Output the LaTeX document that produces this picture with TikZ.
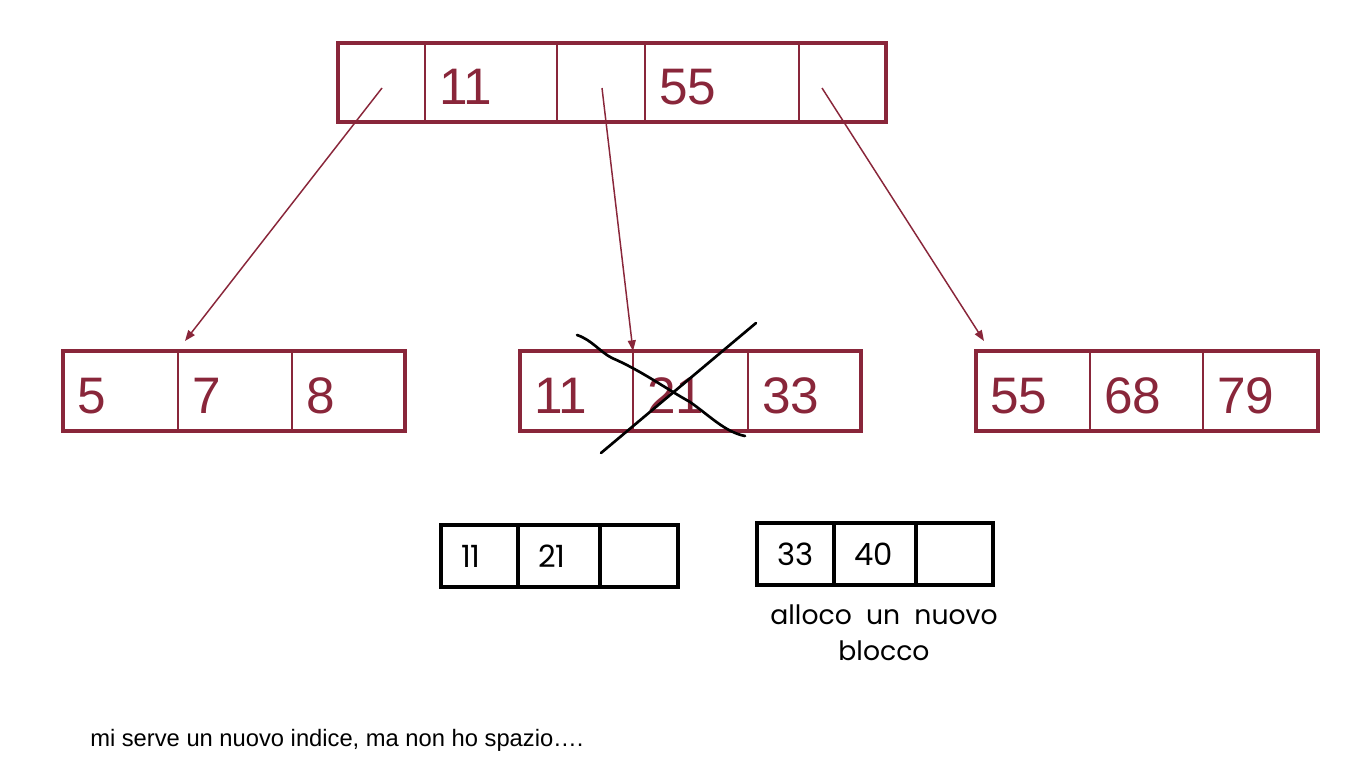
\documentclass[tikz,border=0pt]{standalone}
\usepackage{fontspec}
\setmainfont{Liberation Sans}
\newfontfamily\handfont{Poppins}
\usepackage{tikz}
\usetikzlibrary{calc}
\usetikzlibrary{arrows.meta, positioning}

\definecolor{idxred}{RGB}{137,38,58}

\tikzset{
  cell/.style={draw=idxred, line width=1.6pt, anchor=north west, outer sep=0pt, inner xsep=14*0.75pt,
    inner ysep=0pt, text height=33pt, text depth=0pt, align=left, text=idxred,
    font=\fontsize{38.5}{40}\selectfont},
  frame/.style={draw=idxred, line width=3pt},
  hcell/.style={draw=black, line width=2.3pt, anchor=north west, outer sep=0pt, inner xsep=20*0.75pt,
    inner ysep=0pt, align=left, text=black, font=\handfont\fontsize{23}{26}\selectfont},
  ptr/.style={draw=idxred, line width=1.1pt, -{Triangle[length=8pt,width=6pt]}},
}

\begin{document}
\begin{tikzpicture}[x=0.75pt,y=0.75pt,yscale=-1,xscale=1]
\useasboundingbox[fill=white] (0,0) rectangle (1361,784);

% top index block
\node[cell, text width=59*0.75pt, minimum height=79*0.75pt] (t0) at (338,43) {};
\node[cell, text width=104*0.75pt, minimum height=79*0.75pt] (t1) at (t0.north east) {11};
\node[cell, text width=60*0.75pt, minimum height=79*0.75pt] (t2) at (t1.north east) {};
\node[cell, text width=126*0.75pt, minimum height=79*0.75pt] (t3) at (t2.north east) {55};
\node[cell, text width=59*0.75pt, minimum height=79*0.75pt] (t4) at (t3.north east) {};
\draw[frame] (t0.north west) rectangle (t4.south east);

% leaf blocks
\node[cell, text width=87*0.75pt, minimum height=80*0.75pt] (l1) at (63,351) {5};
\node[cell, text width=86*0.75pt, minimum height=80*0.75pt] (l2) at (l1.north east) {7};
\node[cell, text width=85*0.75pt, minimum height=80*0.75pt] (l3) at (l2.north east) {8};
\draw[frame] (l1.north west) rectangle (l3.south east);

\node[cell, text width=85*0.75pt, minimum height=80*0.75pt] (m1) at (520,351) {11};
\node[cell, text width=87*0.75pt, minimum height=80*0.75pt] (m2) at (m1.north east) {21};
\node[cell, text width=85*0.75pt, minimum height=80*0.75pt] (m3) at (m2.north east) {33};
\draw[frame] (m1.north west) rectangle (m3.south east);

\node[cell, text width=86*0.75pt, minimum height=80*0.75pt] (r1) at (976,351) {55};
\node[cell, text width=85*0.75pt, minimum height=80*0.75pt] (r2) at (r1.north east) {68};
\node[cell, text width=87*0.75pt, minimum height=80*0.75pt] (r3) at (r2.north east) {79};
\draw[frame] (r1.north west) rectangle (r3.south east);

% pointers
\coordinate (p0) at (382,88);
\coordinate (p2) at (602,88);
\coordinate (p4) at (822,88);
\draw[ptr] (p0) -- ($(l1.north east)+(7,-10)$);
\draw[ptr] (p2) -- (m1.north east);
\draw[ptr] (p4) -- ($(r1.north west)+(8,-10)$);

% crossed out
\draw[line width=2pt, line cap=round] (601,453) -- (756,323);
\draw[line width=2pt, line cap=round] (577,335) .. controls (592,340) and (600,352) .. (612,358)
  .. controls (640,370) and (665,388) .. (690,402) .. controls (710,416) and (725,432) .. (745,436);

% split blocks
\node[hcell, text width=37*0.75pt, minimum height=62*0.75pt] (s1) at (441,525) {11};
\node[hcell, text width=42*0.75pt, minimum height=62*0.75pt] (s2) at (s1.north east) {21};
\node[hcell, text width=38*0.75pt, minimum height=62*0.75pt] (s3) at (s2.north east) {};

\node[hcell, text width=37*0.75pt, minimum height=62*0.75pt] (n1) at (757,523) {33};
\node[hcell, text width=42*0.75pt, minimum height=62*0.75pt] (n2) at (n1.north east) {40};
\node[hcell, text width=37*0.75pt, minimum height=62*0.75pt] (n3) at (n2.north east) {};

% notes
\node[anchor=north, inner sep=0pt, align=center, font=\handfont\fontsize{20}{27}\selectfont] (note) at (884,604) {alloco \ un \ nuovo\\blocco};
\node[anchor=west, inner sep=0pt, font=\fontsize{17.8}{20}\selectfont] (msg) at (90,740) {mi serve un nuovo indice, ma non ho spazio….};

\end{tikzpicture}
\end{document}
